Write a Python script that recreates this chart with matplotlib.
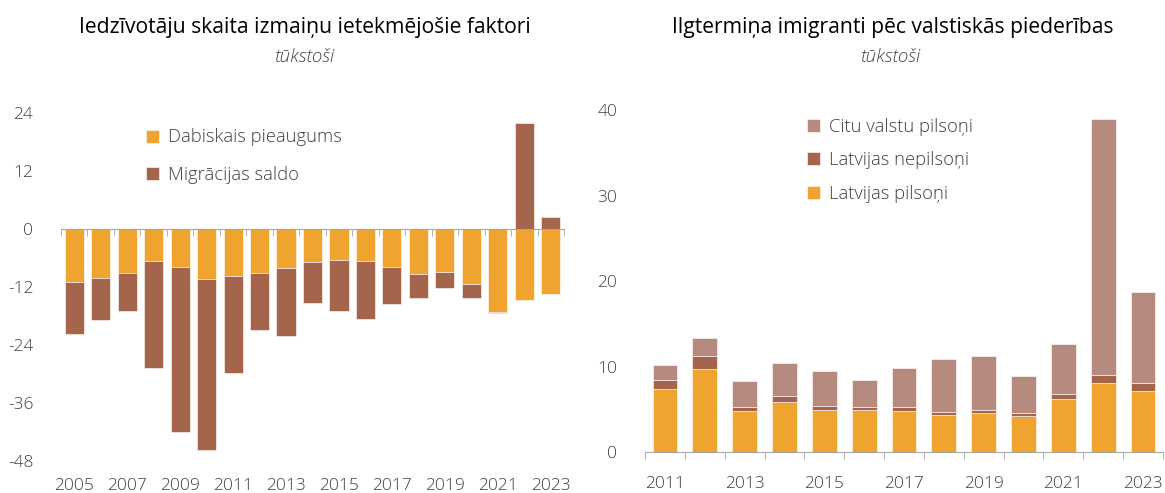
import matplotlib
matplotlib.use("Agg")
import matplotlib.pyplot as plt
import numpy as np

plt.rcParams['font.family'] = ['Open Sans', 'DejaVu Sans']
plt.rcParams['font.weight'] = 'light'
plt.rcParams['axes.unicode_minus'] = False

# left chart data (thousands)
years_l = list(range(2005, 2024))
natural = [-10.9, -10.2, -9.0, -6.6, -7.8, -10.3, -9.7, -9.1, -8.0, -6.8,
           -6.4, -6.6, -7.9, -9.4, -8.9, -11.3, -17.2, -14.7, -13.4]
migration = [-10.9, -8.7, -8.0, -22.2, -34.3, -35.5, -20.0, -11.8, -14.2, -8.5,
             -10.6, -12.1, -7.7, -4.8, -3.3, -3.0, -0.2, 22.0, 2.4]
yticks_l = [24, 12, 0, -12, -24, -36, -48]

# right chart data (thousands)
years_r = list(range(2011, 2024))
lv_citizens = [7.4, 9.7, 4.8, 5.9, 5.0, 5.0, 4.8, 4.4, 4.6, 4.3, 6.2, 8.1, 7.2]
lv_noncitizens = [1.1, 1.5, 0.5, 0.7, 0.4, 0.3, 0.5, 0.3, 0.3, 0.3, 0.6, 0.9, 0.9]
other_citizens = [1.7, 2.2, 3.0, 3.8, 4.1, 3.1, 4.6, 6.2, 6.3, 4.3, 5.9, 29.9, 10.6]
yticks_r = [0, 10, 20, 30, 40]

ORANGE = '#F0A430'
BROWN = '#A5654D'
GREY = '#B68A7E'
TXT = '#404040'
AX = '#A6A6A6'

fig = plt.figure(figsize=(11.65, 4.93), dpi=100)

def style_axis(ax, n, labels, pad):
    for s in ['top', 'right', 'left']:
        ax.spines[s].set_visible(False)
    ax.spines['bottom'].set_color(AX)
    ax.set_xlim(-0.5, n - 0.5)
    ax.set_xticks(np.arange(n + 1) - 0.5, minor=True)
    ax.set_xticks(np.arange(0, n, 2))
    ax.set_xticklabels(labels)
    ax.tick_params(axis='x', which='minor', length=5, color=AX, direction='out')
    ax.tick_params(axis='x', which='major', length=0, pad=pad, labelsize=12.5, labelcolor=TXT)
    ax.tick_params(axis='y', length=0, pad=20, labelsize=12.5, labelcolor=TXT)

# ---- left
ax1 = fig.add_axes([61 / 1165, 32 / 493, 503 / 1165, 348 / 493])
x = np.arange(len(years_l))
nat = np.array(natural)
mig = np.array(migration)
b1 = ax1.bar(x, nat, width=0.72, color=ORANGE, edgecolor='white', linewidth=0.4,
             label='Dabiskais pieaugums')
b2 = ax1.bar(x, mig, bottom=np.where(mig < 0, nat, 0), width=0.72, color=BROWN,
             edgecolor='white', linewidth=0.4, label='Migrācijas saldo')
ax1.set_ylim(-48, 24)
ax1.set_yticks(yticks_l)
ax1.spines['bottom'].set_position(('data', 0))
style_axis(ax1, len(years_l), [str(y) for y in years_l[::2]], 0)
ax1.tick_params(axis='x', which='major', labelbottom=False)
sec = ax1.secondary_xaxis(0)
sec.set_xticks(np.arange(0, len(years_l), 2))
sec.set_xticklabels([str(y) for y in years_l[::2]])
sec.spines['bottom'].set_visible(False)
sec.tick_params(length=0, pad=12, labelsize=12.5, labelcolor=TXT)

fig.legend(handles=[b1, b2], loc='upper left', bbox_to_anchor=(146 / 1165, 1 - 128.5 / 493),
           frameon=False, fontsize=13.2, handlelength=0.7, handleheight=0.7,
           handletextpad=0.5, labelspacing=1.05, borderpad=0, borderaxespad=0,
           labelcolor=TXT)

fig.text(305 / 1165, 1 - 27 / 493, 'Iedzīvotāju skaita izmaiņu ietekmējošie faktori',
         ha='center', va='center', fontsize=15.2, fontweight='normal', color='black')
fig.text(305 / 1165, 1 - 57 / 493, 'tūkstoši', ha='center', va='center',
         fontsize=13.5, style='italic', color=TXT)

# ---- right
ax2 = fig.add_axes([645 / 1165, 40.7 / 493, 518 / 1165, 342.3 / 493])
xr = np.arange(len(years_r))
c1 = np.array(lv_citizens)
c2 = np.array(lv_noncitizens)
c3 = np.array(other_citizens)
r1 = ax2.bar(xr, c1, width=0.62, color=ORANGE, edgecolor='white', linewidth=0.4,
             label='Latvijas pilsoņi')
r2 = ax2.bar(xr, c2, bottom=c1, width=0.62, color=BROWN, edgecolor='white',
             linewidth=0.4, label='Latvijas nepilsoņi')
r3 = ax2.bar(xr, c3, bottom=c1 + c2, width=0.62, color=GREY, edgecolor='white',
             linewidth=0.4, label='Citu valstu pilsoņi')
ax2.set_ylim(0, 40)
ax2.set_yticks(yticks_r)
style_axis(ax2, len(years_r), [str(y) for y in years_r[::2]], 17)

fig.legend(handles=[r3, r2, r1], loc='upper left', bbox_to_anchor=(807 / 1165, 1 - 117.5 / 493),
           frameon=False, fontsize=13.2, handlelength=0.7, handleheight=0.7,
           handletextpad=0.5, labelspacing=0.85, borderpad=0, borderaxespad=0,
           labelcolor=TXT)

fig.text(893 / 1165, 1 - 27 / 493, 'Ilgtermiņa imigranti pēc valstiskās piederības',
         ha='center', va='center', fontsize=15.2, fontweight='normal', color='black')
fig.text(891 / 1165, 1 - 57 / 493, 'tūkstoši', ha='center', va='center',
         fontsize=13.5, style='italic', color=TXT)

fig.savefig('out.png', dpi=100)
